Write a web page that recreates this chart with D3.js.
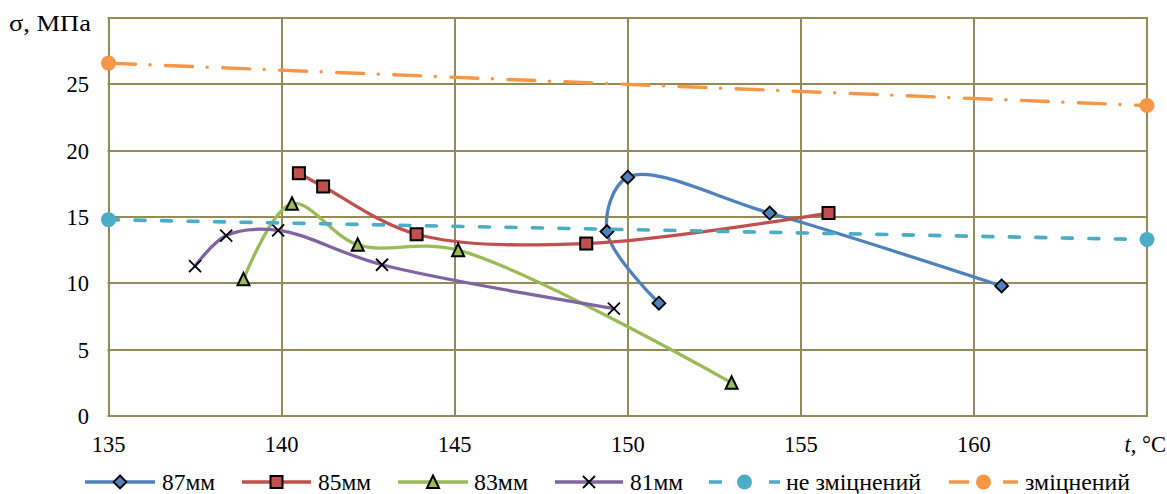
<!DOCTYPE html>
<html>
<head>
<meta charset="utf-8">
<script src="https://cdn.jsdelivr.net/npm/d3@7"></script>
<style>
  body { margin: 0; background: #fff; }
  svg text { font-family: "Liberation Serif", "Tinos", "DejaVu Serif", "Times New Roman", serif; fill: #000; }
</style>
</head>
<body>
<svg id="chart" width="1167" height="494"></svg>
<script>
// Axis ticks
const xTicks = [135, 140, 145, 150, 155, 160, 165];
const xTickLabels = ["135", "140", "145", "150", "155", "160", ""];
const yTicks = [0, 5, 10, 15, 20, 25, 30];
const yTickLabels = ["0", "5", "10", "15", "20", "25", ""];

// Series: temperature t (°C) and stress σ (MPa)
const t87 = [150.9, 149.4, 150.0, 154.1, 160.8];
const s87 = [8.5, 13.9, 18.0, 15.3, 9.8];

const t85 = [140.5, 141.2, 143.9, 148.8, 155.8];
const s85 = [18.3, 17.3, 13.7, 13.0, 15.3];

const t83 = [138.9, 140.3, 142.2, 145.1, 153.0];
const s83 = [10.3, 16.0, 12.9, 12.5, 2.5];

const t81 = [137.5, 138.4, 139.9, 142.9, 149.6];
const s81 = [11.3, 13.6, 14.0, 11.4, 8.1];

const tPlain = [135, 165];
const sPlain = [14.8, 13.3];

const tHardened = [135, 165];
const sHardened = [26.6, 23.4];

const seriesNames = ["87мм", "85мм", "83мм", "81мм", "не зміцнений", "зміцнений"];

// Layout
const svg = d3.select("#chart");
const x = d3.scaleLinear().domain([135, 165]).range([108.5, 1147]);
const y = d3.scaleLinear().domain([0, 30]).range([416, 18]);

const gridColor = "#958B58";
const zip = (a, b) => a.map((v, i) => [v, b[i]]);

const series = [
  { name: seriesNames[0], pts: zip(t87, s87), color: "#4F81BD", marker: "diamond", smooth: true },
  { name: seriesNames[1], pts: zip(t85, s85), color: "#C0504D", marker: "square", smooth: true },
  { name: seriesNames[2], pts: zip(t83, s83), color: "#9BBB59", marker: "triangle", smooth: true },
  { name: seriesNames[3], pts: zip(t81, s81), color: "#8064A2", marker: "x", smooth: true },
  { name: seriesNames[4], pts: zip(tPlain, sPlain), color: "#4BACC6", marker: "circle",
    dash: "10,16.5", legendDash: "13,47,12", width: 3.6 },
  { name: seriesNames[5], pts: zip(tHardened, sHardened), color: "#F79646", marker: "circle",
    dash: "27,14.5,0.1,15.5", legendDash: "20,34,15", width: 3.4 }
];

// Grid
const grid = svg.append("g");
grid.selectAll("line.v").data(xTicks).join("line")
  .attr("x1", d => Math.round(x(d))).attr("x2", d => Math.round(x(d)))
  .attr("y1", y(30)).attr("y2", y(0))
  .attr("stroke", gridColor).attr("stroke-width", 2);
grid.selectAll("line.h").data(yTicks).join("line")
  .attr("x1", x(135) - 1).attr("x2", x(165) + 1)
  .attr("y1", d => Math.round(y(d))).attr("y2", d => Math.round(y(d)))
  .attr("stroke", gridColor).attr("stroke-width", 2);

// Tick labels
svg.append("g").selectAll("text").data(yTicks).join("text")
  .attr("x", 89).attr("y", d => Math.round(y(d)) + 8)
  .attr("text-anchor", "end").attr("font-size", 22.5)
  .text((d, i) => yTickLabels[i]);
svg.append("g").selectAll("text").data(xTicks).join("text")
  .attr("x", d => x(d)).attr("y", 452)
  .attr("text-anchor", "middle").attr("font-size", 22.5)
  .text((d, i) => xTickLabels[i]);

// Axis titles
svg.append("text").attr("x", 9).attr("y", 31).attr("font-size", 22.5)
  .attr("textLength", 82).attr("lengthAdjust", "spacingAndGlyphs").text("σ, МПа");
const xt = svg.append("text").attr("x", 1166).attr("y", 452).attr("text-anchor", "end").attr("font-size", 22.5);
xt.append("tspan").attr("font-style", "italic").text("t");
xt.append("tspan").text(", °C");

// Markers
function drawMarker(g, type, cx, cy, color) {
  if (type === "diamond") {
    const r = 6.5;
    g.append("path").attr("d", `M${cx},${cy - r}L${cx + r},${cy}L${cx},${cy + r}L${cx - r},${cy}Z`)
      .attr("fill", color).attr("stroke", "#000").attr("stroke-width", 1.8);
  } else if (type === "square") {
    const h = 6;
    g.append("rect").attr("x", cx - h).attr("y", cy - h).attr("width", 2 * h).attr("height", 2 * h)
      .attr("fill", color).attr("stroke", "#000").attr("stroke-width", 2);
  } else if (type === "triangle") {
    const h = 6;
    g.append("path").attr("d", `M${cx},${cy - h - 0.5}L${cx + h},${cy + h}L${cx - h},${cy + h}Z`)
      .attr("fill", color).attr("stroke", "#000").attr("stroke-width", 2).attr("stroke-linejoin", "miter");
  } else if (type === "x") {
    const h = 6;
    g.append("path").attr("d", `M${cx - h},${cy - h}L${cx + h},${cy + h}M${cx - h},${cy + h}L${cx + h},${cy - h}`)
      .attr("stroke", "#000").attr("stroke-width", 1.8).attr("fill", "none");
  } else if (type === "circle") {
    g.append("circle").attr("cx", cx).attr("cy", cy).attr("r", 7.5).attr("fill", color);
  }
}

// Series lines and markers
const plot = svg.append("g");
series.forEach(s => {
  const line = d3.line()
    .x(d => x(d[0])).y(d => y(d[1]))
    .curve(s.smooth ? d3.curveCatmullRom.alpha(0.5) : d3.curveLinear);
  const g = plot.append("g");
  g.append("path").datum(s.pts).attr("d", line)
    .attr("fill", "none").attr("stroke", s.color)
    .attr("stroke-width", s.width || 3.3)
    .attr("stroke-linecap", "round").attr("stroke-linejoin", "round")
    .attr("stroke-dasharray", s.dash || null);
  s.pts.forEach(p => drawMarker(g, s.marker, x(p[0]), y(p[1]), s.color));
});

// Legend
const legendItems = [
  { x0: 85, x1: 155, tx: 162, w: 53 },
  { x0: 242, x1: 311, tx: 318, w: 53 },
  { x0: 398, x1: 468, tx: 474, w: 54 },
  { x0: 555, x1: 623, tx: 630, w: 53 },
  { x0: 709, x1: 780, tx: 786, w: 135 },
  { x0: 949, x1: 1018, tx: 1025, w: 105 }
];
const ly = 482;
const legend = svg.append("g");
series.forEach((s, i) => {
  const it = legendItems[i];
  const g = legend.append("g");
  g.append("line").attr("x1", it.x0).attr("x2", it.x1).attr("y1", ly).attr("y2", ly)
    .attr("stroke", s.color).attr("stroke-width", s.width || 3.3)
    .attr("stroke-dasharray", s.legendDash || null);
  drawMarker(g, s.marker, (it.x0 + it.x1) / 2, ly, s.color);
  g.append("text").attr("x", it.tx).attr("y", ly + 8).attr("font-size", 22.5)
    .attr("textLength", it.w).attr("lengthAdjust", "spacingAndGlyphs").text(s.name);
});
</script>
</body>
</html>
